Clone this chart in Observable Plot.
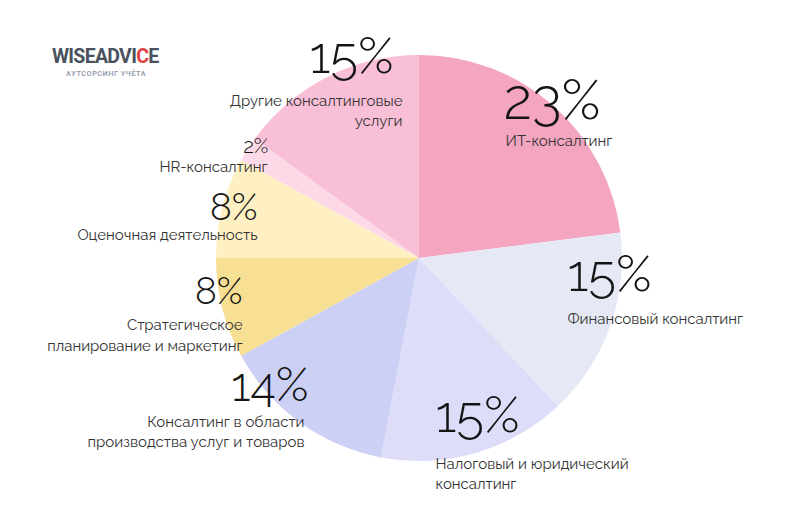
<!DOCTYPE html>
<html>
<head>
<meta charset="utf-8">
<script src="https://cdn.jsdelivr.net/npm/d3@7"></script>
<script src="https://cdn.jsdelivr.net/npm/@observablehq/plot@0.6"></script>
<style>
  html, body { margin: 0; padding: 0; background: #fff; }
  #wrap { position: relative; width: 794px; height: 510px; }
  #logo { position: absolute; left: 52px; top: 46px; font-family: Roboto, "Open Sans", sans-serif; }
  #logo .name { font-weight: 700; font-size: 19.5px; color: #4a5260; letter-spacing: -0.7px; line-height: 21px; }
  #logo .name span { color: #e0403f; }
  #logo .sub { font-size: 7.3px; color: #8a93a8; letter-spacing: 0.5px; margin-left: 14px; margin-top: 2px; font-weight: 500; }
</style>
</head>
<body>
<div id="wrap">
  <div id="logo"><div class="name">WISEADVI<span>C</span>E</div><div class="sub">АУТСОРСИНГ УЧЁТА</div></div>
  <div id="chart"></div>
</div>
<script>
// Data
const categories = [
  "ИТ-консалтинг",
  "Финансовый консалтинг",
  "Налоговый и юридический\nконсалтинг",
  "Консалтинг в области\nпроизводства услуг и товаров",
  "Стратегическое\nпланирование и маркетинг",
  "Оценочная деятельность",
  "HR-консалтинг",
  "Другие консалтинговые\nуслуги"
];
const shares = [23, 15, 15, 14, 8, 8, 2, 15];
const colors = ["#F4A5C0", "#E6E9F5", "#DDDDF9", "#CDD0F5", "#F7DF94", "#FEF0C2", "#FDD9E7", "#F9BFD6"];

// Layout (pixel positions of labels, sizes)
const center = [419, 258];
const radius = 203;
const pctPos = [[503, 101], [567, 274], [435, 415], [308, 385], [242, 292], [257, 208], [268, 146], [393, 56]];
const pctSize = [56, 51, 51, 47, 37, 37, 21, 51];
const labPos = [[505, 139], [567, 317], [435, 472], [304, 430], [242, 333.5], [257, 233], [267, 165], [402, 109]];
const anchors = ["start", "start", "start", "end", "end", "end", "end", "end"];

const table = categories.map((c, i) => ({
  cat: c, v: shares[i],
  px: pctPos[i][0], py: pctPos[i][1], ps: pctSize[i],
  lx: labPos[i][0], ly: labPos[i][1], a: anchors[i]
}));

const pieMark = (index, scales) => {
  const cx = scales.x(center[0]), cy = scales.y(center[1]);
  const r = scales.x(center[0] + radius) - cx;
  const arcs = d3.pie().sort(null).value(d => d.v)(table);
  const arc = d3.arc().innerRadius(0).outerRadius(r);
  const g = d3.create("svg:g").attr("transform", `translate(${cx},${cy})`);
  g.selectAll("path").data(arcs).join("path")
    .attr("d", arc)
    .attr("fill", d => scales.color(d.data.cat));
  return g.node();
};

const font = "Raleway, 'Open Sans', 'Noto Sans', sans-serif";
const pctMarks = table.map(d => Plot.text([d], {
  x: "px", y: "py", text: e => e.v + "%", textAnchor: d.a,
  fontSize: d.ps, fontWeight: 300, fill: "#141414", fontFamily: font
}));
const labelMarks = ["start", "end"].map(a => Plot.text(table.filter(d => d.a === a), {
  x: "lx", y: "ly", text: "cat", textAnchor: a,
  lineAnchor: "middle", lineHeight: 1.38,
  fontSize: 15, fontWeight: 400, fill: "#333", fontFamily: font
}));

const plot = Plot.plot({
  width: 794, height: 510,
  margin: 0,
  x: {domain: [0, 794], range: [0, 794], axis: null},
  y: {domain: [0, 510], range: [0, 510], axis: null},
  color: {domain: categories, range: colors},
  style: {background: "transparent"},
  marks: [pieMark, ...pctMarks, ...labelMarks]
});
document.getElementById("chart").appendChild(plot);
</script>
</body>
</html>
